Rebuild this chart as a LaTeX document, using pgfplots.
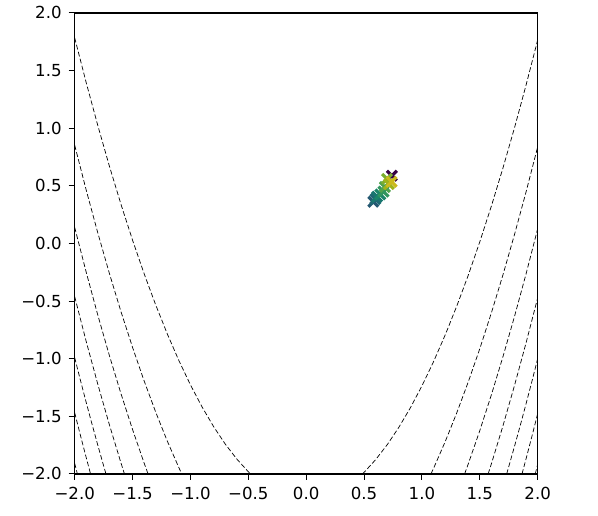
\documentclass[border=0pt]{standalone}
\usepackage{fontspec}
\setmainfont{DejaVu Sans}
\usepackage{pgfplots}
\pgfplotsset{compat=1.18}
\begin{document}
\begin{tikzpicture}
\begin{axis}[
 name=ax, at={(0pt,0pt)}, anchor=south west,
 width=231.5pt, height=230.5pt, scale only axis,
 xmin=-2,xmax=2,ymin=-2,ymax=2,
 xtick={-2,-1.5,-1,-0.5,0,0.5,1,1.5,2},
 ytick={-2,-1.5,-1,-0.5,0,0.5,1,1.5,2},
 xticklabels={−2.0,−1.5,−1.0,−0.5,0.0,0.5,1.0,1.5,2.0},
 yticklabels={−2.0,−1.5,−1.0,−0.5,0.0,0.5,1.0,1.5,2.0},
 tick pos=left, tick align=outside, major tick length=3pt,
 tick style={black, line width=0.5pt},
 axis line style={line width=0.6pt},
 ticklabel style={font=\fontsize{8.3}{9.6}\selectfont},
 colormap/viridis, point meta min=0, point meta max=1,
]
% contour lines (levels 500 ... 3500)
\addplot[black, line width=0.35pt, dash pattern=on 2.4pt off 1.2pt] coordinates {(-2,1.784) (-1.9,1.393) (-1.8,1.022) (-1.7,0.670) (-1.6,0.339) (-1.5,0.028) (-1.4,-0.263) (-1.3,-0.534) (-1.2,-0.785) (-1.1,-1.016) (-1.0,-1.227) (-0.9,-1.418) (-0.8,-1.589) (-0.7,-1.740) (-0.6,-1.870) (-0.5,-1.981) (-0.481,-2)};
\addplot[black, line width=0.35pt, dash pattern=on 2.4pt off 1.2pt] coordinates {(0.485,-2) (0.5,-1.986) (0.6,-1.876) (0.7,-1.746) (0.8,-1.596) (0.9,-1.426) (1.0,-1.236) (1.1,-1.026) (1.2,-0.796) (1.3,-0.546) (1.4,-0.276) (1.5,0.015) (1.6,0.325) (1.7,0.655) (1.8,1.005) (1.9,1.376) (2.0,1.766)};
\addplot[black, line width=0.35pt, dash pattern=on 2.4pt off 1.2pt] coordinates {(-2,0.852) (-1.9,0.461) (-1.8,0.090) (-1.7,-0.261) (-1.6,-0.592) (-1.5,-0.902) (-1.4,-1.193) (-1.3,-1.464) (-1.2,-1.715) (-1.1,-1.945) (-1.075,-2)};
\addplot[black, line width=0.35pt, dash pattern=on 2.4pt off 1.2pt] coordinates {(1.078,-2) (1.1,-1.952) (1.2,-1.722) (1.3,-1.472) (1.4,-1.202) (1.5,-0.912) (1.6,-0.602) (1.7,-0.272) (1.8,0.079) (1.9,0.449) (2.0,0.839)};
\addplot[black, line width=0.35pt, dash pattern=on 2.4pt off 1.2pt] coordinates {(-2,0.139) (-1.9,-0.252) (-1.8,-0.623) (-1.7,-0.974) (-1.6,-1.304) (-1.5,-1.615) (-1.4,-1.906) (-1.366,-2)};
\addplot[black, line width=0.35pt, dash pattern=on 2.4pt off 1.2pt] coordinates {(1.3685,-2) (1.4,-1.913) (1.5,-1.623) (1.6,-1.313) (1.7,-0.982) (1.8,-0.632) (1.9,-0.262) (2.0,0.128)};
\addplot[black, line width=0.35pt, dash pattern=on 2.4pt off 1.2pt] coordinates {(-2,-0.462) (-1.9,-0.853) (-1.8,-1.223) (-1.7,-1.574) (-1.6,-1.905) (-1.570,-2)};
\addplot[black, line width=0.35pt, dash pattern=on 2.4pt off 1.2pt] coordinates {(1.572,-2) (1.6,-1.912) (1.7,-1.582) (1.8,-1.231) (1.9,-0.861) (2.0,-0.471)};
\addplot[black, line width=0.35pt, dash pattern=on 2.4pt off 1.2pt] coordinates {(-2,-0.991) (-1.95,-1.189) (-1.9,-1.382) (-1.85,-1.569) (-1.8,-1.752) (-1.73,-2)};
\addplot[black, line width=0.35pt, dash pattern=on 2.4pt off 1.2pt] coordinates {(1.732,-2) (1.8,-1.759) (1.85,-1.577) (1.9,-1.389) (1.95,-1.197) (2.0,-0.999)};
\addplot[black, line width=0.35pt, dash pattern=on 2.4pt off 1.2pt] coordinates {(-2,-1.469) (-1.95,-1.667) (-1.9,-1.860) (-1.863,-2)};
\addplot[black, line width=0.35pt, dash pattern=on 2.4pt off 1.2pt] coordinates {(1.8645,-2) (1.9,-1.8665) (1.95,-1.674) (2.0,-1.476)};
\addplot[black, line width=0.35pt, dash pattern=on 2.4pt off 1.2pt] coordinates {(-2,-1.908) (-1.977,-2)};
\addplot[black, line width=0.35pt, dash pattern=on 2.4pt off 1.2pt] coordinates {(1.979,-2) (2,-1.915)};
% iterates
\addplot[scatter, only marks, mark=x, mark size=3.5pt, scatter src=explicit,
 mark options={line width=1.6pt}] table[meta=c] {
x y c
0.740 0.588 0.0
0.580 0.362 0.36
0.598 0.385 0.44
0.612 0.405 0.52
0.640 0.425 0.60
0.668 0.450 0.68
0.680 0.490 0.76
0.698 0.560 0.85
0.715 0.515 0.92
0.738 0.535 1.0
};
\end{axis}
\path (-37.35pt,-21pt) rectangle (261.65pt,236pt);
\end{tikzpicture}
\end{document}
